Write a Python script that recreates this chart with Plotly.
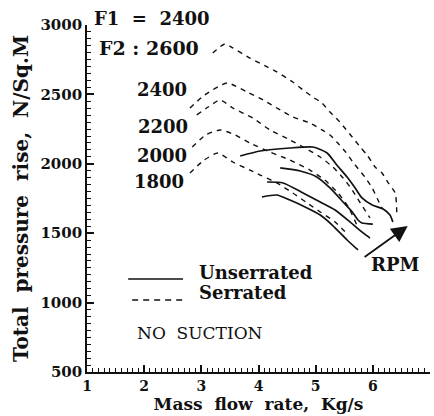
import plotly.graph_objects as go

# ---- data (mass flow rate kg/s, total pressure rise N/Sq.M) ----
# Serrated (dashed) curves, by RPM label
ser_2600_x = [3.20, 3.41, 3.55, 3.85, 4.15, 4.32, 4.60, 4.78, 4.95, 5.11, 5.25, 5.39, 5.51, 5.64, 5.78, 5.90, 6.04, 6.16, 6.27, 6.39, 6.42]
ser_2600_y = [2798, 2863, 2835, 2762, 2698, 2662, 2589, 2532, 2481, 2438, 2373, 2316, 2258, 2193, 2121, 2063, 1977, 1934, 1862, 1790, 1631]
ser_2400_x = [2.80, 3.06, 3.45, 3.80, 4.08, 4.38, 4.60, 4.90, 5.11, 5.25, 5.37, 5.51, 5.65, 5.86, 5.99, 6.09, 6.16]
ser_2400_y = [2402, 2496, 2582, 2517, 2460, 2388, 2337, 2294, 2244, 2208, 2157, 2092, 2013, 1905, 1826, 1739, 1682]
ser_2200_x = [2.92, 3.12, 3.33, 3.55, 3.90, 4.20, 4.55, 4.78, 5.08, 5.30, 5.48, 5.64, 5.78, 5.95]
ser_2200_y = [2352, 2409, 2460, 2402, 2330, 2244, 2172, 2121, 2049, 1977, 1898, 1811, 1718, 1610]
ser_2000_x = [2.84, 3.08, 3.33, 3.59, 3.85, 4.20, 4.55, 4.90, 5.16, 5.39, 5.57, 5.72]
ser_2000_y = [2121, 2208, 2244, 2208, 2150, 2085, 2027, 1955, 1883, 1790, 1689, 1559]
ser_1800_x = [2.80, 3.05, 3.29, 3.55, 3.85, 4.03, 4.32, 4.60, 4.85, 5.08, 5.34, 5.57]
ser_1800_y = [1934, 2027, 2078, 2013, 1955, 1919, 1862, 1790, 1718, 1653, 1581, 1487]

# Unserrated (solid) curves
uns_1_x = [3.68, 4.03, 4.55, 4.95, 5.20, 5.37, 5.55, 5.69, 5.81, 5.99, 6.18, 6.30, 6.35]
uns_1_y = [2056, 2092, 2114, 2121, 2078, 1991, 1905, 1826, 1754, 1703, 1675, 1631, 1581]
uns_2_x = [4.38, 4.73, 5.02, 5.25, 5.48, 5.64, 5.74, 5.81, 6.00]
uns_2_y = [1970, 1948, 1905, 1826, 1725, 1653, 1595, 1574, 1566]
uns_3_x = [4.15, 4.43, 4.78, 5.08, 5.34, 5.60, 5.83, 5.95]
uns_3_y = [1869, 1862, 1790, 1725, 1667, 1581, 1502, 1465]
uns_4_x = [4.06, 4.32, 4.55, 4.85, 5.08, 5.29, 5.55, 5.74]
uns_4_y = [1761, 1775, 1739, 1682, 1631, 1559, 1451, 1379]

serrated = [(ser_2600_x, ser_2600_y), (ser_2400_x, ser_2400_y), (ser_2200_x, ser_2200_y),
            (ser_2000_x, ser_2000_y), (ser_1800_x, ser_1800_y)]
unserrated = [(uns_1_x, uns_1_y), (uns_2_x, uns_2_y), (uns_3_x, uns_3_y), (uns_4_x, uns_4_y)]

rpm_labels = ["2400", "2200", "2000", "1800"]
rpm_label_x = [2.31, 2.33, 2.31, 2.26]
rpm_label_y = [2532, 2272, 2063, 1876]

x_ticks = [1, 2, 3, 4, 5, 6, 7]
y_ticks = [500, 1000, 1500, 2000, 2500, 3000]

FONT = "DejaVu Serif"
INK = "#111111"

fig = go.Figure()
for xs, ys in serrated:
    fig.add_trace(go.Scatter(x=xs, y=ys, mode="lines",
                             line=dict(color=INK, width=1.4, dash="5px,5px", shape="spline", smoothing=0.6),
                             showlegend=False, hoverinfo="skip"))
for xs, ys in unserrated:
    fig.add_trace(go.Scatter(x=xs, y=ys, mode="lines",
                             line=dict(color=INK, width=1.7, shape="spline", smoothing=0.6),
                             showlegend=False, hoverinfo="skip"))

ann = []
def txt(x, y, s, size=18, bold=True, xanchor="center", yref="y"):
    ann.append(dict(x=x, y=y, xref="x", yref=yref, text=s, showarrow=False,
                    xanchor=xanchor, yanchor="middle",
                    font=dict(family=FONT, size=size, color=INK, weight="bold" if bold else "normal")))

txt(1.09, 1.018, "F1  =  2400", xanchor="left", yref="paper")
txt(1.175, 2834, "F2 : 2600", size=19, xanchor="left")
for s, lx, ly in zip(rpm_labels, rpm_label_x, rpm_label_y):
    txt(lx, ly, s)
txt(2.92, 1220, "Unserrated", xanchor="left")
txt(2.92, 1076, "Serrated", xanchor="left")
txt(1.84, 781, "NO  SUCTION", size=17, bold=False, xanchor="left")
txt(6.39, 1278, "RPM")

# RPM arrow
arrow_head = (6.61, 1552)
arrow_tail = (5.83, 1321)
ann.append(dict(x=arrow_head[0], y=arrow_head[1], ax=arrow_tail[0], ay=arrow_tail[1],
                xref="x", yref="y", axref="x", ayref="y", text="", showarrow=True,
                arrowhead=2, arrowsize=1.8, arrowwidth=1.8, arrowcolor=INK))

# legend samples
shapes = [
    dict(type="line", xref="x", yref="y", x0=1.72, x1=2.68, y0=1170, y1=1170,
         line=dict(color=INK, width=1.7)),
    dict(type="line", xref="x", yref="y", x0=1.79, x1=2.68, y0=1019, y1=1019,
         line=dict(color=INK, width=1.4, dash="6px,5px")),
]

axis_common = dict(showline=True, linecolor=INK, linewidth=1.6, ticks="inside", ticklen=7,
                   tickwidth=1.5, tickcolor=INK, showgrid=False, zeroline=False, mirror=False)

fig.update_layout(
    width=434, height=416,
    margin=dict(l=87, r=4, t=25, b=44),
    paper_bgcolor="white", plot_bgcolor="white",
    showlegend=False,
    annotations=ann, shapes=shapes,
    xaxis=dict(range=[1, 7], tickvals=x_ticks, ticktext=[str(v) for v in x_ticks],
               minor=dict(dtick=0.1, ticks="inside", ticklen=4, tickcolor=INK, tickwidth=1),
               tickfont=dict(family=FONT, size=14, color=INK, weight="bold"),
               ticklabelstandoff=0,
               title=dict(text="Mass  flow  rate,  Kg/s", standoff=3,
                          font=dict(family=FONT, size=17, color=INK, weight="bold")),
               **axis_common),
    yaxis=dict(range=[500, 3000], tickvals=y_ticks, ticktext=[str(v) for v in y_ticks],
               minor=dict(dtick=50, ticks="inside", ticklen=4, tickcolor=INK, tickwidth=1),
               tickfont=dict(family=FONT, size=15, color=INK, weight="bold"),
               title=dict(text="Total  pressure  rise,  N/Sq.M", standoff=6,
                          font=dict(family=FONT, size=20, color=INK, weight="bold")),
               **axis_common),
)

fig.write_html("out.html")
